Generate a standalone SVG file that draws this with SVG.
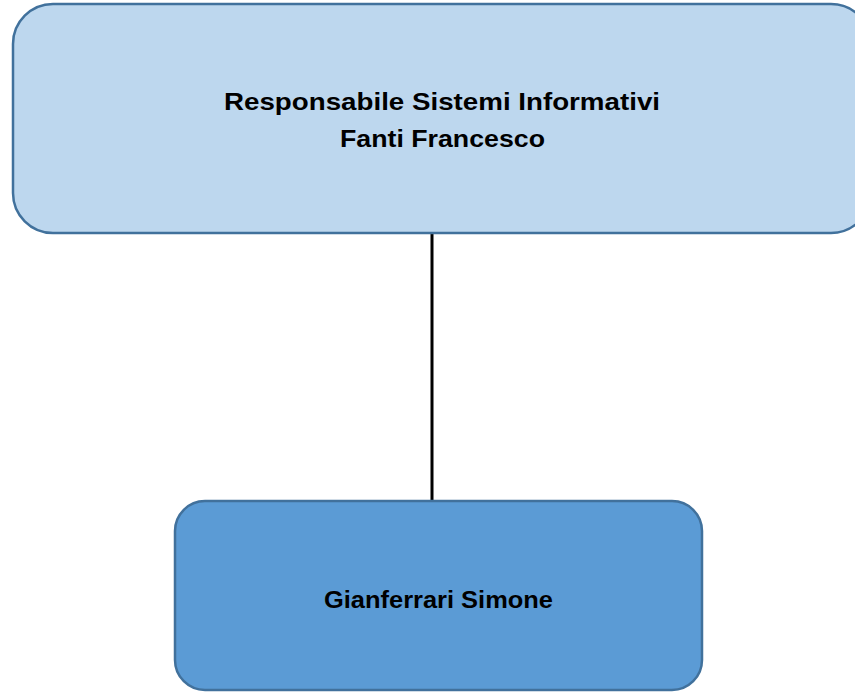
<svg xmlns="http://www.w3.org/2000/svg" width="855" height="692" viewBox="0 0 855 692">
<style>
.box{stroke:#41719C;stroke-width:2.5}
.t{font-family:"Liberation Sans",Arial,sans-serif;font-weight:bold;font-size:24px;fill:#000;text-anchor:middle}
</style>
<rect width="855" height="692" fill="#fff"/>
<g id="connectors">
<line x1="432" y1="234" x2="432" y2="501" stroke="#000" stroke-width="3"/>
</g>
<g id="node-responsabile">
<rect class="box" x="13" y="4" width="858" height="229" rx="40" ry="40" fill="#BDD7EE"/>
<text class="t" x="442" y="110" textLength="436" lengthAdjust="spacingAndGlyphs">Responsabile Sistemi Informativi</text>
<text class="t" x="442.5" y="147" textLength="205" lengthAdjust="spacingAndGlyphs">Fanti Francesco</text>
</g>
<g id="node-gianferrari">
<rect class="box" x="175" y="501" width="527" height="189" rx="30" ry="30" fill="#5B9BD5"/>
<text class="t" x="438.5" y="608" textLength="229" lengthAdjust="spacingAndGlyphs">Gianferrari Simone</text>
</g>
</svg>
